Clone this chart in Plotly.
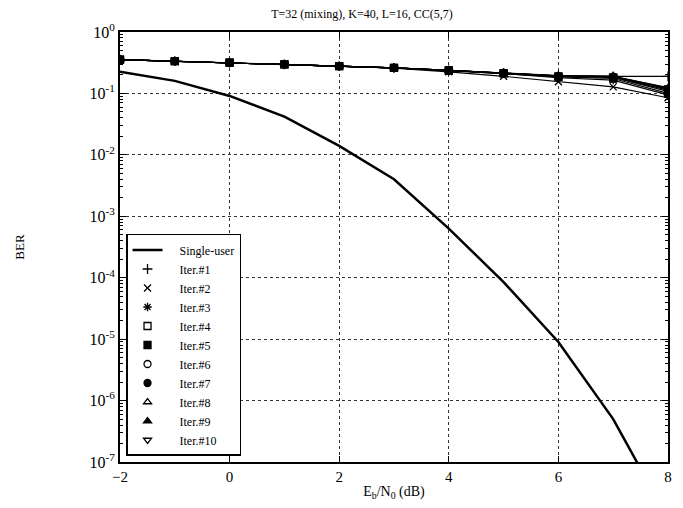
import plotly.graph_objects as go

ebn0 = [-2, -1, 0, 1, 2, 3, 4, 5, 6, 7, 8]
single_user = [0.225, 0.16, 0.091, 0.042, 0.014, 0.004, 6.3e-4, 8.5e-5, 9e-6, 5e-7, 1.2e-8]

iter1 = [0.355, 0.335, 0.318, 0.298, 0.278, 0.26, 0.238, 0.215, 0.195, 0.19, 0.19]
iter2 = [0.355, 0.335, 0.318, 0.298, 0.278, 0.258, 0.225, 0.19, 0.155, 0.128, 0.085]
iter3 = [0.355, 0.335, 0.318, 0.298, 0.278, 0.26, 0.235, 0.21, 0.18, 0.165, 0.095]
iter4 = [0.355, 0.335, 0.318, 0.298, 0.278, 0.26, 0.236, 0.212, 0.186, 0.175, 0.10]
iter5 = [0.355, 0.335, 0.318, 0.298, 0.278, 0.26, 0.237, 0.214, 0.19, 0.182, 0.108]
iter6 = [0.355, 0.335, 0.318, 0.298, 0.278, 0.26, 0.237, 0.215, 0.191, 0.185, 0.113]
iter7 = [0.355, 0.335, 0.318, 0.298, 0.278, 0.26, 0.238, 0.215, 0.192, 0.187, 0.117]
iter8 = [0.355, 0.335, 0.318, 0.298, 0.278, 0.26, 0.238, 0.215, 0.192, 0.188, 0.12]
iter9 = [0.355, 0.335, 0.318, 0.298, 0.278, 0.26, 0.238, 0.216, 0.193, 0.189, 0.122]
iter10 = [0.355, 0.335, 0.318, 0.298, 0.278, 0.26, 0.238, 0.216, 0.193, 0.189, 0.124]

iter_names = ["Iter.#1", "Iter.#2", "Iter.#3", "Iter.#4", "Iter.#5",
              "Iter.#6", "Iter.#7", "Iter.#8", "Iter.#9", "Iter.#10"]
iter_data = [iter1, iter2, iter3, iter4, iter5, iter6, iter7, iter8, iter9, iter10]
symbols = ["cross-thin", "x-thin", "asterisk", "square-open", "square",
           "circle-open", "circle", "triangle-up-open", "triangle-up", "triangle-down-open"]

y_major = [1e0, 1e-1, 1e-2, 1e-3, 1e-4, 1e-5, 1e-6, 1e-7]
y_labels = ["10<sup>0</sup>", "10<sup>-1</sup>", "10<sup>-2</sup>", "10<sup>-3</sup>",
            "10<sup>-4</sup>", "10<sup>-5</sup>", "10<sup>-6</sup>", "10<sup>-7</sup>"]
x_ticks = [-2, 0, 2, 4, 6, 8]

FONT = "Liberation Serif"
PAD = "\u00a0\u00a0\u00a0\u00a0"

fig = go.Figure()

fig.add_trace(go.Scatter(x=ebn0, y=single_user, mode="lines", name=PAD + "Single-user",
                         line=dict(color="black", width=2.5)))

for name, ys, sym in zip(iter_names, iter_data, symbols):
    fig.add_trace(go.Scatter(x=ebn0, y=ys, mode="lines", showlegend=False,
                             line=dict(color="black", width=1.2), hoverinfo="skip"))
    fig.add_trace(go.Scatter(x=ebn0, y=ys, mode="markers", name=PAD + name,
                             marker=dict(symbol=sym, size=7, color="black",
                                         line=dict(color="black", width=1.3))))

minor_vals = [m * 10.0 ** e for e in range(-7, 0) for m in range(2, 10)]

fig.update_layout(
    width=683, height=508,
    margin=dict(l=120, r=11, t=32, b=45),
    paper_bgcolor="white", plot_bgcolor="white",
    font=dict(family=FONT, size=13, color="black"),
    title=dict(text="T=32 (mixing), K=40, L=16, CC(5,7)", x=0.53, xref="container",
               xanchor="center", y=0.972, yref="container", yanchor="middle",
               font=dict(family=FONT, size=12, color="black")),
    showlegend=True,
    legend=dict(x=0.011, y=0.014, xanchor="left", yanchor="bottom",
                bgcolor="white", bordercolor="black", borderwidth=1.5,
                font=dict(family=FONT, size=12, color="black"),
                tracegroupgap=0, itemwidth=30),
)

fig.update_xaxes(range=[-2, 8], tickvals=x_ticks, ticks="inside", ticklen=6,
                 tickcolor="black", showline=True, linecolor="black", linewidth=2,
                 mirror="ticks", showgrid=True, gridcolor="#333333", griddash="dot",
                 gridwidth=1, zeroline=False,
                 tickfont=dict(family=FONT, size=15, color="black"),
                 title=dict(text="E<sub>b</sub>/N<sub>0</sub> (dB)", standoff=2,
                            font=dict(family=FONT, size=14, color="black")))

fig.update_yaxes(type="log", range=[-7, 0], tickvals=y_major, ticktext=y_labels,
                 ticks="inside", ticklen=6, tickcolor="black", showline=True,
                 linecolor="black", linewidth=2, mirror="ticks", showgrid=True,
                 gridcolor="#333333", griddash="dot", gridwidth=1, zeroline=False,
                 tickfont=dict(family=FONT, size=16, color="black"),
                 minor=dict(tickvals=minor_vals, ticks="inside", ticklen=3,
                            tickcolor="black", showgrid=False),
                 title=dict(text="BER", standoff=62,
                            font=dict(family=FONT, size=13, color="black")))

fig.write_html("out.html")
